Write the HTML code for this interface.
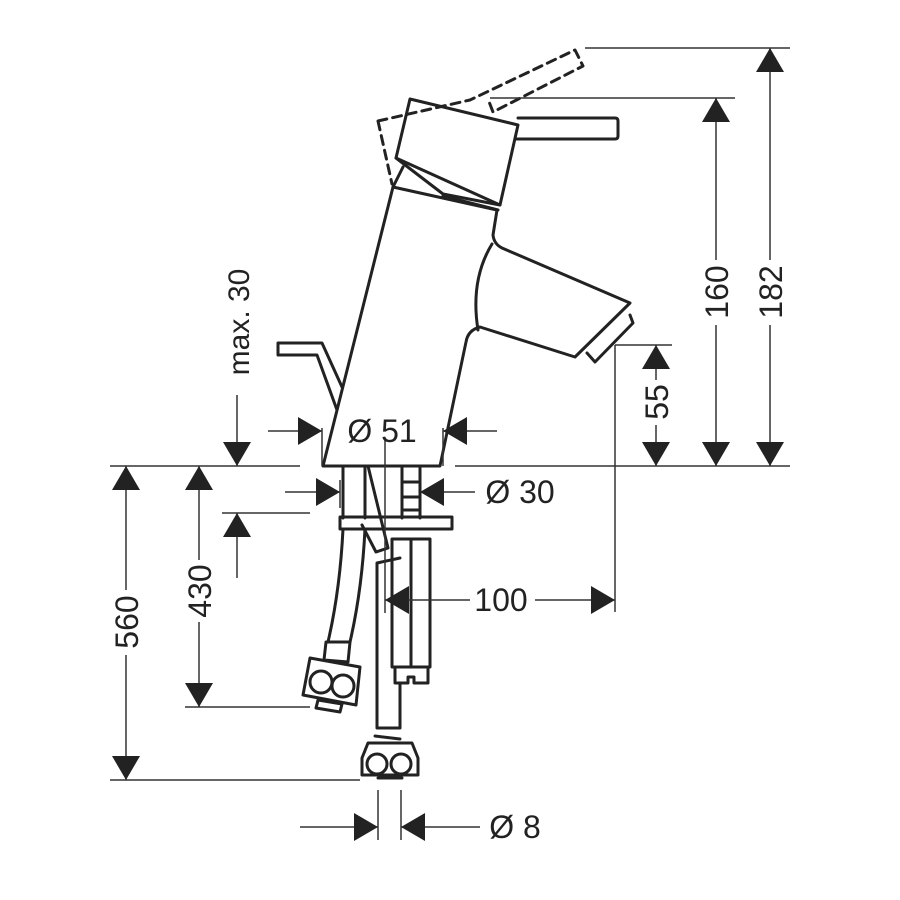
<!DOCTYPE html>
<html><head><style>html,body{margin:0;padding:0;background:#fff}svg{display:block}</style></head>
<body>
<svg width="900" height="900" viewBox="0 0 900 900" xmlns="http://www.w3.org/2000/svg">
<defs>
<marker id="a" viewBox="0 0 24 28" refX="24" refY="14" markerWidth="24" markerHeight="28" markerUnits="userSpaceOnUse" orient="auto"><path d="M0,0 L24,14 L0,28 Z" fill="#222"/></marker>
</defs>
<g fill="none" stroke="#222" stroke-width="3" stroke-linejoin="round" stroke-linecap="round">
<!-- dashed handle -->
<path d="M378,121 L392,184 M378,121 L470,100 L575,50 L583,66 L493,112 L488,99" stroke-dasharray="9,6"/>
<!-- handle -->
<path d="M410,99 L518,125 L500,205 L396,158 Z"/>
<path d="M518,118 L615,118 Q618,118 618,121 L618,136 Q618,139 615,139 L515,139"/>
<path d="M396,158 L443,194 L500,205"/>
<path d="M403,167 L393,187"/>
<!-- body -->
<path d="M393,187 L497,210 L493,235 Q494,244 502,248 L630,303 L575,357 L480,327 Q468,330 466,342 L440,466 L323,466 L393,187"/>
<path d="M498,210 L443,196"/>
<path d="M492,244 Q470,280 478,330"/>
<path d="M630,315 L633,323 L595,362 L587,353"/>
<!-- lift rod -->
<path d="M278,343 L322,343 L342,387 M278,343 L278,355 L317,355 L337,410"/>
<!-- shank -->
<path d="M343,466 L343,518 M365,466 L365,518 M402,466 L402,518 M420,466 L420,518 M402,482 L420,482 M402,497 L420,497 M402,510 L420,510"/>
<path d="M368,466 L388,548 L376,552 L362,525"/>
<rect x="340" y="517" width="112" height="12"/>
<!-- threaded cylinder -->
<rect x="392" y="539" width="38" height="128"/>
<path d="M411,539 L411,667"/>
<path d="M395,667 L395,683 L408,683 L408,677 L414,677 L414,683 L428,683 L428,667"/>
<!-- left hose -->
<path d="M343,529 Q340,590 328,642 M365,529 Q362,590 350,642"/>
<path d="M326,642 L350,642 L348,662 L324,660 Z"/>
<path d="M310,658 L360,667 L356,705 L303,695 Z"/>
<circle cx="321" cy="682" r="11"/><circle cx="343" cy="686" r="11"/>
<path d="M318,700 L342,704 L340,712 L316,708 Z"/>
<!-- middle hose -->
<path d="M377,563 L400,558 M377,563 L377,728 L400,728 L400,683"/>
<path d="M375,736 L400,739"/>
<path d="M368,743 L412,743 L418,758 L418,775 L362,775 L362,758 Z"/>
<circle cx="377" cy="764" r="10"/><circle cx="401" cy="764" r="10"/>
<path d="M378,778 L402,778"/>
</g>
<!-- dimension lines -->
<g stroke="#333" stroke-width="1.5" fill="none">
<path d="M585,48 L790,48 M490,98 L735,98 M455,466 L790,466 M615,345 L672,345 M615,345 L615,612 M110,466 L300,466 M110,780 L360,780 M185,707 L310,707 M222,513 L310,513"/>
<path d="M385,440 L385,613"/>
<path d="M322,428 L322,466 M443,428 L443,466 M340,480 L340,508 M378,790 L378,840 M401,790 L401,840"/>
<path d="M770,260 L770,48" marker-end="url(#a)"/>
<path d="M770,325 L770,466" marker-end="url(#a)"/>
<path d="M716,260 L716,98" marker-end="url(#a)"/>
<path d="M716,325 L716,466" marker-end="url(#a)"/>
<path d="M656,380 L656,345" marker-end="url(#a)"/>
<path d="M656,425 L656,466" marker-end="url(#a)"/>
<path d="M470,600 L385,600" marker-end="url(#a)"/>
<path d="M535,600 L615,600" marker-end="url(#a)"/>
<path d="M268,431 L322,431" marker-end="url(#a)"/>
<path d="M497,431 L443,431" marker-end="url(#a)"/>
<path d="M285,492 L340,492" marker-end="url(#a)"/>
<path d="M475,492 L420,492" marker-end="url(#a)"/>
<path d="M237,395 L237,466" marker-end="url(#a)"/>
<path d="M237,578 L237,513" marker-end="url(#a)"/>
<path d="M126,590 L126,466" marker-end="url(#a)"/>
<path d="M126,655 L126,780" marker-end="url(#a)"/>
<path d="M199,560 L199,466" marker-end="url(#a)"/>
<path d="M199,622 L199,707" marker-end="url(#a)"/>
<path d="M300,827 L378,827" marker-end="url(#a)"/>
<path d="M480,827 L401,827" marker-end="url(#a)"/>
</g>
<g font-family="Liberation Sans, sans-serif" font-size="32" fill="#222" text-anchor="middle">
<text transform="translate(782,292) rotate(-90)">182</text>
<text transform="translate(728,292) rotate(-90)">160</text>
<text transform="translate(668,402) rotate(-90)">55</text>
<text transform="translate(249,322) rotate(-90)" font-size="30">max. 30</text>
<text transform="translate(138,622) rotate(-90)">560</text>
<text transform="translate(211,591) rotate(-90)">430</text>
<text x="501" y="611">100</text>
<text x="382" y="442">Ø 51</text>
<text x="520" y="503">Ø 30</text>
<text x="515" y="838">Ø 8</text>
</g>
</svg>
</body></html>
